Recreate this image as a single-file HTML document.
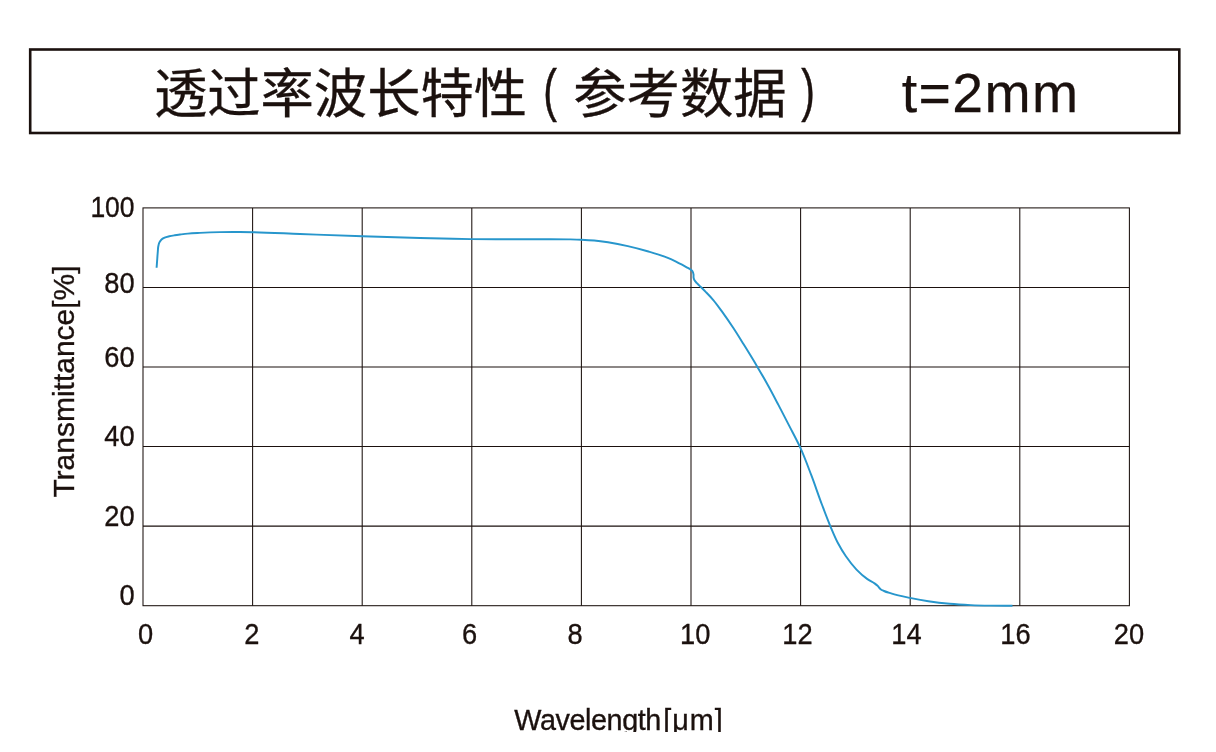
<!DOCTYPE html>
<html lang="zh-CN">
<head>
<meta charset="utf-8">
<title>透过率波长特性 ( 参考数据 ) t=2mm</title>
<style>
html,body{margin:0;padding:0;background:#fff;}
body{width:1216px;height:752px;overflow:hidden;position:relative;font-family:"Liberation Sans","Noto Sans CJK SC",sans-serif;color:#1b110e;}
svg{position:absolute;left:0;top:0;display:block;}
svg text{font-family:"Liberation Sans","Noto Sans CJK SC",sans-serif;fill:#1b110e;}
.title text{font-size:53.33px;stroke:#1b110e;stroke-width:0.3px;}
.title .lat{font-size:55.4px;stroke-width:0.25px;letter-spacing:1.4px;}
.title .par{font-size:57px;stroke-width:0.5px;}
.axt{font-size:28.7px;}
.axw{font-size:29.7px;}
.ax{font-size:30.4px;}
.ax,.axt,.axw{stroke:#1b110e;stroke-width:0.35px;}
</style>
</head>
<body>
<svg width="1216" height="752" viewBox="0 0 1216 752">
<defs><clipPath id="clipb"><rect x="0" y="0" width="1216" height="732"/></clipPath></defs>
<rect x="0" y="0" width="1216" height="752" fill="#ffffff"/>
<!-- title box -->
<rect x="30.2" y="49.5" width="1149.1" height="83.5" fill="none" stroke="#1b110e" stroke-width="2.6"/>
<g class="title">
<text x="153.9" y="113.2">透过率波长特性</text>
<text class="par" transform="translate(543.2 109.8) scale(0.72 1)">(</text>
<text x="573.3" y="113.2">参考数据</text>
<text class="par" transform="translate(801.3 109.8) scale(0.72 1)">)</text>
<text class="lat" x="901.8" y="111.5">t=2mm</text>
</g>
<!-- grid -->
<path d="M252.60 207.90V605.70M362.20 207.90V605.70M471.80 207.90V605.70M581.40 207.90V605.70M691.00 207.90V605.70M800.60 207.90V605.70M910.20 207.90V605.70M1019.80 207.90V605.70M143.00 287.46H1129.40M143.00 367.02H1129.40M143.00 446.58H1129.40M143.00 526.14H1129.40" fill="none" stroke="#1b110e" stroke-width="1.05"/>
<rect x="143.0" y="207.9" width="986.40" height="397.80" fill="none" stroke="#1b110e" stroke-width="1.05"/>
<!-- curve -->
<path d="M156.60 267.80C156.83 264.60 157.06 261.40 157.30 258.20C157.46 256.00 157.61 253.80 157.80 251.60C157.95 249.83 157.96 248.04 158.30 246.30C158.54 245.05 158.75 243.76 159.30 242.60C159.80 241.54 160.45 240.51 161.30 239.70C162.23 238.81 163.43 238.24 164.60 237.70C166.08 237.01 167.71 236.69 169.30 236.30C171.05 235.87 172.83 235.59 174.60 235.30C176.79 234.94 179.00 234.68 181.20 234.40C183.43 234.11 185.66 233.82 187.90 233.60C191.89 233.21 195.90 233.06 199.90 232.85C206.53 232.50 213.16 232.24 219.80 232.10C226.47 231.96 233.13 231.95 239.80 232.00C244.10 232.03 248.40 232.11 252.70 232.20C268.47 232.52 284.23 233.41 300.00 234.00C320.80 234.78 341.60 235.61 362.40 236.30C381.60 236.93 400.80 237.51 420.00 238.00C436.97 238.43 453.93 238.88 470.90 239.10C487.27 239.31 503.63 239.26 520.00 239.30C536.17 239.34 552.34 239.00 568.50 239.35C572.80 239.44 577.10 239.51 581.40 239.70C585.67 239.89 589.94 240.10 594.20 240.50C598.82 240.94 603.42 241.59 608.00 242.30C614.64 243.33 621.24 244.62 627.80 246.10C634.42 247.59 640.99 249.30 647.50 251.20C654.13 253.13 660.82 254.97 667.20 257.60C670.18 258.83 673.11 260.18 676.00 261.60C678.02 262.59 680.02 263.64 682.00 264.70C683.58 265.55 685.14 266.42 686.70 267.30C687.87 267.96 689.12 268.51 690.20 269.30C691.02 269.90 691.93 270.46 692.50 271.30C693.12 272.23 693.32 273.40 693.50 274.50C693.67 275.55 693.39 276.65 693.60 277.70C693.78 278.60 694.07 279.49 694.50 280.30C695.08 281.41 696.06 282.27 696.90 283.20C698.21 284.65 699.71 285.93 701.10 287.30C702.71 288.89 704.32 290.48 705.90 292.10C708.35 294.62 710.81 297.13 713.10 299.80C716.53 303.79 719.52 308.14 722.60 312.40C726.25 317.45 729.77 322.60 733.20 327.80C736.85 333.33 740.30 338.98 743.80 344.60C748.29 351.83 752.77 359.07 757.10 366.40C760.74 372.56 764.33 378.74 767.80 385.00C771.44 391.57 774.91 398.25 778.40 404.90C781.98 411.71 785.49 418.56 789.00 425.40C792.76 432.72 796.77 439.92 800.20 447.40C804.36 456.47 807.75 465.88 811.30 475.20C815.00 484.91 818.23 494.78 821.90 504.50C824.66 511.80 827.36 519.12 830.40 526.30C832.78 531.92 835.05 537.61 837.90 543.00C840.32 547.57 842.96 552.04 845.90 556.30C849.12 560.97 852.55 565.53 856.50 569.60C859.77 572.97 863.25 576.20 867.10 578.90C869.58 580.64 872.47 581.78 874.90 583.60C875.83 584.30 876.75 585.00 877.60 585.80C878.70 586.84 879.40 588.28 880.60 589.20C881.62 589.98 882.84 590.46 884.00 591.00C886.27 592.05 888.71 592.66 891.10 593.40C897.25 595.31 903.59 596.58 909.90 597.90C916.00 599.17 922.14 600.26 928.30 601.20C935.37 602.28 942.48 603.15 949.60 603.80C956.68 604.45 963.79 604.80 970.90 605.10C977.26 605.37 983.63 605.50 990.00 605.60C997.50 605.72 1005.00 605.67 1012.50 605.70" fill="none" stroke="#2796cc" stroke-width="1.95" stroke-linejoin="round" stroke-linecap="butt"/>
<!-- y tick labels -->
<g class="ax">
<text transform="translate(134.6 216.6) scale(0.872 1)" text-anchor="end">100</text>
<text transform="translate(134.6 292.5) scale(0.897 1)" text-anchor="end">80</text>
<text transform="translate(134.6 366.5) scale(0.897 1)" text-anchor="end">60</text>
<text transform="translate(134.6 445.8) scale(0.897 1)" text-anchor="end">40</text>
<text transform="translate(134.6 525.9) scale(0.897 1)" text-anchor="end">20</text>
<text transform="translate(134.6 604.5) scale(0.897 1)" text-anchor="end">0</text>
</g>
<!-- x tick labels -->
<g class="ax">
<text transform="translate(145.6 643.6) scale(0.897 1)" text-anchor="middle">0</text>
<text transform="translate(251.8 643.6) scale(0.897 1)" text-anchor="middle">2</text>
<text transform="translate(357.1 643.6) scale(0.897 1)" text-anchor="middle">4</text>
<text transform="translate(469.7 643.6) scale(0.897 1)" text-anchor="middle">6</text>
<text transform="translate(575.2 643.6) scale(0.897 1)" text-anchor="middle">8</text>
<text transform="translate(695.2 643.6) scale(0.897 1)" text-anchor="middle">10</text>
<text transform="translate(797.5 643.6) scale(0.897 1)" text-anchor="middle">12</text>
<text transform="translate(906.5 643.6) scale(0.897 1)" text-anchor="middle">14</text>
<text transform="translate(1015.4 643.6) scale(0.897 1)" text-anchor="middle">16</text>
<text transform="translate(1128.9 643.6) scale(0.897 1)" text-anchor="middle">20</text>
</g>
<!-- axis titles -->
<text class="axt" transform="translate(73.9 497.6) rotate(-90) scale(1.045 1)">Transmittance[%]</text>
<g clip-path="url(#clipb)"><text class="axw" transform="translate(514.2 729.6) scale(0.97 1)"><tspan letter-spacing="-0.45">Wavelength</tspan><tspan dx="2.4" letter-spacing="1.0">[μm]</tspan></text></g>
</svg>
</body>
</html>
